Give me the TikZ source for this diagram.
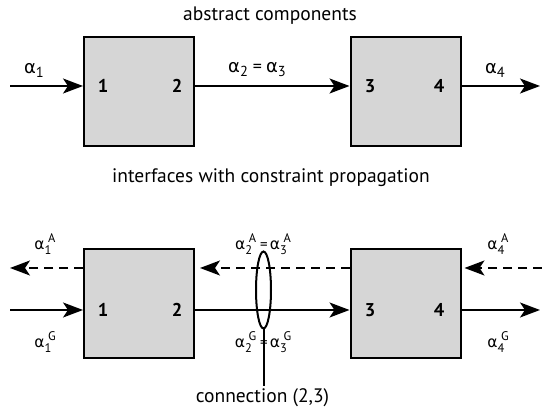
\documentclass[tikz,border=0pt]{standalone}
\usepackage{fontspec}
\setmainfont{PT Sans}
\newfontfamily\grk{DejaVu Sans}
\usetikzlibrary{arrows.meta,shapes.geometric}
% alpha with a subscript (upper diagram)
\newcommand{\alt}[1]{{\grk\fontsize{18}{18}\selectfont α}\raisebox{-4pt}{\fontsize{14.5}{14.5}\selectfont #1}}
% alpha with stacked subscript and superscript (lower diagram)
\newcommand{\alb}[2]{{\grk\fontsize{15.5}{15.5}\selectfont α}\rlap{\raisebox{-5pt}{\fontsize{12.5}{12.5}\selectfont #1}}\raisebox{7pt}{\fontsize{12.5}{12.5}\selectfont\hspace{3.5pt}#2}}
\tikzset{
  box/.style={draw, line width=2pt, fill=black!16, minimum width=110pt, minimum height=109pt, inner sep=0pt},
  num/.style={font=\fontsize{18.5}{18.5}\selectfont\bfseries, inner sep=0pt},
  lab/.style={inner sep=0pt},
  title/.style={font=\fontsize{19.5}{19.5}\selectfont, inner sep=0pt},
  arr/.style={line width=2pt, -{Stealth[length=20pt, width=15pt, inset=5pt]}},
  darr/.style={arr, dash pattern=on 9pt off 6pt, shorten >=3pt},
  plain/.style={line width=2pt},
}
\begin{document}
\begin{tikzpicture}[x=1pt, y=-1pt]
\useasboundingbox (0,0) rectangle (542,411);

% ---------- abstract components ----------
\node[title] (t1) at (270,16) {abstract components};
\node[box] (A) at (139,91.5) {};
\node[box] (B) at (405.5,91.5) {};
\coordinate (inA) at (10,86);
\coordinate (outB) at (540,86);
\node[num] (n1) at (103,86) {1};
\node[num] (n2) at (177,86) {2};
\node[num] (n3) at (370,86) {3};
\node[num] (n4) at (439,86) {4};
\draw[arr] (inA) -- (inA -| A.west);
\draw[arr] (inA -| A.east) -- (inA -| B.west);
\draw[arr] (outB -| B.east) -- (outB);
\node[lab] (a1) at (34,70) {\alt{1}};
\node[lab] (a23) at (257,70) {\alt{2}\hspace{5pt}{\fontsize{18}{18}\selectfont=}\hspace{4pt}\alt{3}};
\node[lab] (a4) at (495,70) {\alt{4}};

% ---------- interfaces with constraint propagation ----------
\node[title] (t2) at (271,178) {interfaces with constraint propagation};
\node[box] (C) at (139,303.5) {};
\node[box] (D) at (405.5,303.5) {};
\coordinate (dl) at (10,268);
\coordinate (dr) at (542,268);
\coordinate (sl) at (10,310);
\coordinate (sr) at (540,310);
\node[num] (m1) at (103,310) {1};
\node[num] (m2) at (177,310) {2};
\node[num] (m3) at (370,310) {3};
\node[num] (m4) at (439,310) {4};
% assumptions (dashed, right to left)
\draw[darr, shorten >=0pt] (dl -| C.west) -- (dl);
\draw[darr, shorten >=5pt] (dl -| D.west) -- (dl -| C.east);
\draw[darr] (dr) -- (dr -| D.east);
% guarantees (solid, left to right)
\draw[arr] (sl) -- (sl -| C.west);
\draw[arr] (sl -| C.east) -- (sl -| D.west);
\draw[arr] (sr -| D.east) -- (sr);
% connection (2,3)
\node[ellipse, draw, line width=2pt, minimum width=15pt, minimum height=77pt, inner sep=0pt] (E) at (263.5,290) {};
\coordinate (cend) at (263.5,386);
\draw[plain] (E.south) -- (cend);
\node[title] (cl) at (262.5,398) {connection (2,3)};
% assumption and guarantee labels
\node[lab] (b1a) at (45,244) {\alb{1}{A}};
\node[lab] (b23a) at (263,244) {\alb{2}{A}\hspace{4pt}{\fontsize{15}{15}\selectfont=}\hspace{2pt}\alb{3}{A}};
\node[lab] (b4a) at (498,244) {\alb{4}{A}};
\node[lab] (b1g) at (45,342) {\alb{1}{G}};
\node[lab] (b23g) at (263,342) {\alb{2}{G}\hspace{4pt}{\fontsize{15}{15}\selectfont=}\hspace{2pt}\alb{3}{G}};
\node[lab] (b4g) at (498,342) {\alb{4}{G}};
\end{tikzpicture}
\end{document}
